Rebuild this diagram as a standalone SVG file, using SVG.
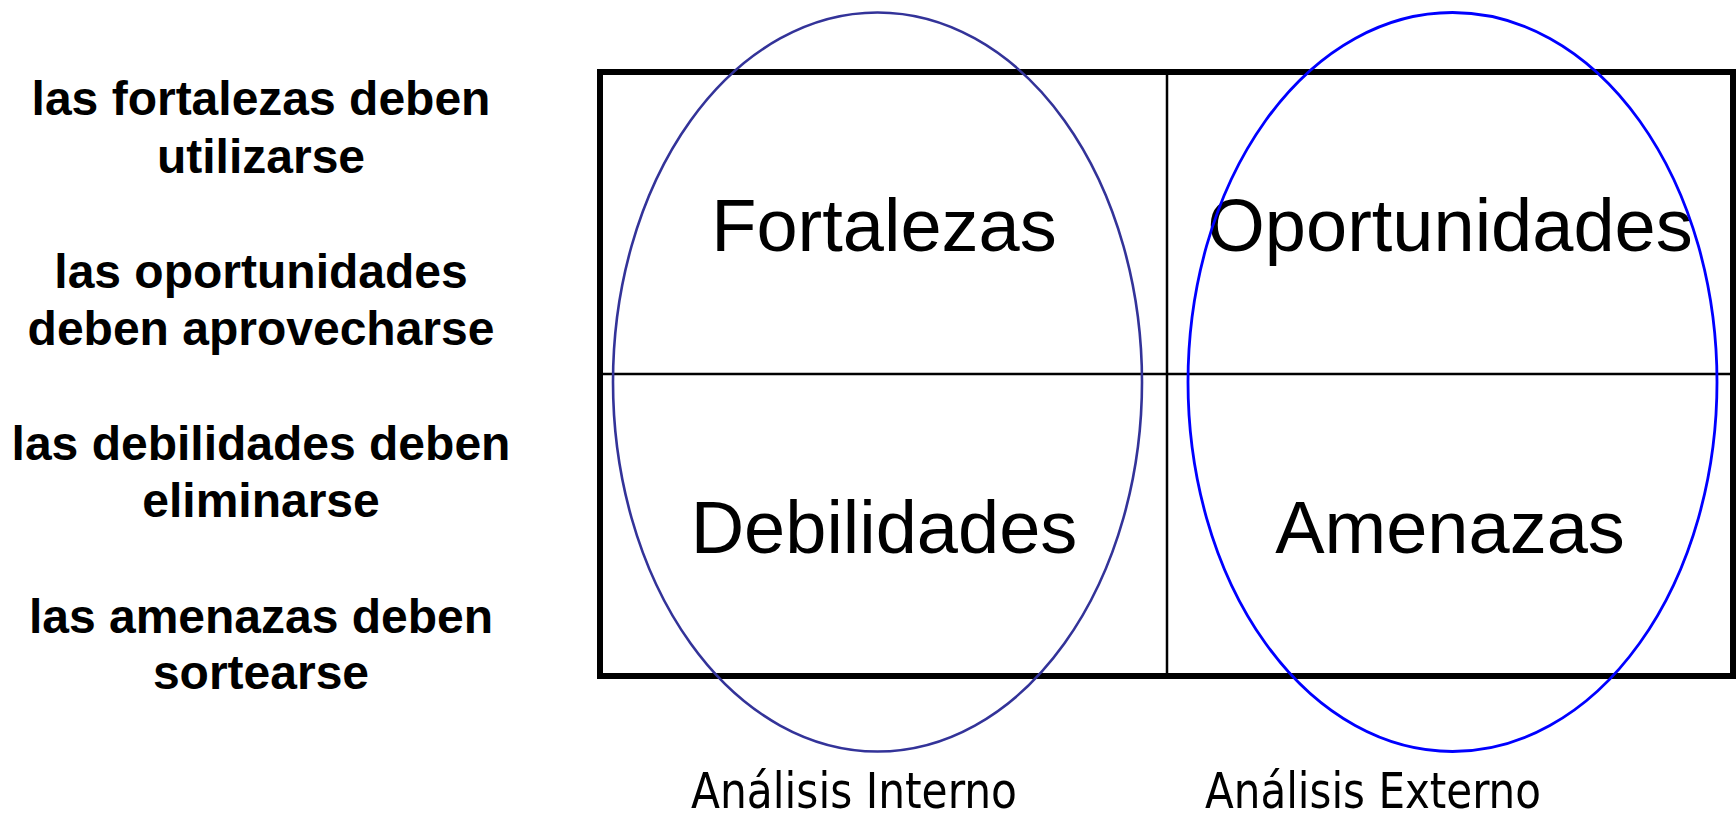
<svg xmlns="http://www.w3.org/2000/svg" width="1736" height="813" viewBox="0 0 1736 813">
<style>
.side{font-family:"Liberation Sans",Arial,sans-serif;font-weight:bold;font-size:48px;fill:#000;text-anchor:middle}
.cell{font-family:"Liberation Sans",Arial,sans-serif;font-size:74px;fill:#000;text-anchor:middle}
.cap{font-family:"DejaVu Sans Condensed","DejaVu Sans",sans-serif;font-stretch:condensed;font-size:50px;fill:#000;text-anchor:middle}
.grid{stroke:#000;stroke-width:2.5;fill:none}
</style>
<rect width="1736" height="813" fill="#fff"/>
<g id="side-notes">
<text class="side" x="261" y="115">las fortalezas deben</text>
<text class="side" x="261" y="173">utilizarse</text>
<text class="side" x="261" y="288">las oportunidades</text>
<text class="side" x="261" y="345">deben aprovecharse</text>
<text class="side" x="261" y="460">las debilidades deben</text>
<text class="side" x="261" y="517">eliminarse</text>
<text class="side" x="261" y="633">las amenazas deben</text>
<text class="side" x="261" y="689">sortearse</text>
</g>
<g id="matrix">
<rect x="600" y="72" width="1133" height="604" fill="none" stroke="#000" stroke-width="6"/>
<line class="grid" x1="1167" y1="72" x2="1167" y2="676"/>
<line class="grid" x1="600" y1="374" x2="1733" y2="374"/>
</g>
<g id="fortalezas"><text class="cell" x="884" y="251">Fortalezas</text></g>
<g id="oportunidades"><text class="cell" x="1450" y="251">Oportunidades</text></g>
<g id="debilidades"><text class="cell" x="884" y="553">Debilidades</text></g>
<g id="amenazas"><text class="cell" x="1450" y="553">Amenazas</text></g>
<g id="analisis-interno">
<ellipse cx="877.5" cy="382" rx="264.5" ry="369.5" fill="none" stroke="#333399" stroke-width="2.6"/>
<text class="cap" x="854" y="808" textLength="326" lengthAdjust="spacingAndGlyphs">Análisis Interno</text>
</g>
<g id="analisis-externo">
<ellipse cx="1452.5" cy="382" rx="264.5" ry="369.5" fill="none" stroke="#0000ff" stroke-width="2.8"/>
<text class="cap" x="1373" y="808" textLength="336" lengthAdjust="spacingAndGlyphs">Análisis Externo</text>
</g>
<g id="connectors"></g>
</svg>
